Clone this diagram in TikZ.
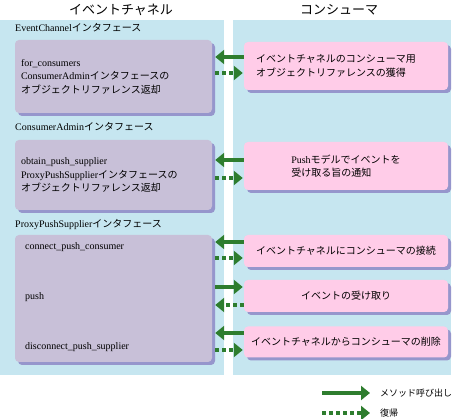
\documentclass[tikz,border=0pt]{standalone}
\usepackage{fontspec}
\setmainfont{Liberation Serif}
\newfontfamily\jpfont{Noto Sans CJK JP}
\newcommand{\jtext}[1]{{\jpfont #1}}
\usetikzlibrary{arrows.meta,shadows,calc}
\definecolor{panelblue}{RGB}{198,230,240}
\definecolor{ifacepurple}{RGB}{200,192,216}
\definecolor{taskpink}{RGB}{255,204,232}
\definecolor{shadowblue}{RGB}{150,150,204}
\definecolor{arrowgreen}{RGB}{46,125,46}
\begin{document}
\begin{tikzpicture}[x=1pt, y=-1pt,
    header/.style={font=\fontsize{13}{15}\selectfont\jpfont},
    caption/.style={anchor=west, inner sep=0pt, font=\fontsize{10}{13}\selectfont},
    legend/.style={anchor=west, inner sep=0pt, font=\fontsize{9}{11}\selectfont},
    iface/.style={fill=ifacepurple, rounded corners=4pt, minimum width=197pt, text width=185pt, align=left, font=\fontsize{10}{13.5}\selectfont, drop shadow={shadow xshift=3pt, shadow yshift=-3pt, fill=shadowblue, opacity=1}},
    task/.style={fill=taskpink, rounded corners=4pt, minimum width=204pt, align=left, font=\fontsize{10}{13.5}\selectfont, drop shadow={shadow xshift=3pt, shadow yshift=-3pt, fill=shadowblue, opacity=1}},
    call/.style={draw=arrowgreen, line width=4pt, -{Triangle[length=9pt, width=14pt]}},
    back/.style={call, dash pattern=on 4pt off 3pt},
]
    \useasboundingbox (0,0) rectangle (456,419);
    \fill[panelblue] (0,20) rectangle (224,375);
    \fill[panelblue] (233,20) rectangle (451,375);

    \node[header] (ec) at (121,10) {イベントチャネル};
    \node[header] (cons) at (339,10) {コンシューマ};

    \node[caption] (ecif) at (15,28) {EventChannel\jtext{インタフェース}};
    \node[caption] (caif) at (15,127) {ConsumerAdmin\jtext{インタフェース}};
    \node[caption] (ppif) at (15,225) {ProxyPushSupplier\jtext{インタフェース}};

    \node[iface, minimum height=73pt] (lA) at (113.5,76.5) {for\_consumers\\ConsumerAdmin\jtext{インタフェースの}\\\jtext{オブジェクトリファレンス返却}};
    \node[iface, minimum height=70pt] (lB) at (113.5,175) {obtain\_push\_supplier\\ProxyPushSupplier\jtext{インタフェースの}\\\jtext{オブジェクトリファレンス返却}};
    \node[iface, minimum height=127pt] (lC) at (113.5,298.5) {};
    \node[caption] (conn) at (25,247) {connect\_push\_consumer};
    \node[caption] (push) at (25,297) {push};
    \node[caption] (disc) at (25,347) {disconnect\_push\_supplier};

    \node[task, minimum height=48pt, text width=180pt] (rA) at (346,66) {\jtext{イベントチャネルのコンシューマ用}\\\jtext{オブジェクトリファレンスの獲得}};
    \node[task, minimum height=48pt] (rB) at (346,166) {Push\jtext{モデルでイベントを}\\\jtext{受け取る旨の通知}};
    \node[task, minimum height=32pt] (rC) at (346,251) {\jtext{イベントチャネルにコンシューマの接続}};
    \node[task, minimum height=32pt] (rD) at (346,296) {\jtext{イベントの受け取り}};
    \node[task, minimum height=31pt] (rE) at (346,342) {\jtext{イベントチャネルからコンシューマの削除}};

    \draw[call, shorten >=3pt] ($(rA.west)+(0,-9)$) -- ($(lA.east|-rA.west)+(0,-9)$);
    \draw[back, shorten <=3pt, shorten >=1pt] ($(lA.east|-rA.west)+(0,7)$) -- ($(rA.west)+(0,7)$);
    \draw[call, shorten >=3pt] ($(rB.west)+(0,-6)$) -- ($(lB.east|-rB.west)+(0,-6)$);
    \draw[back, shorten <=3pt, shorten >=1pt] ($(lB.east|-rB.west)+(0,12)$) -- ($(rB.west)+(0,12)$);
    \draw[call, shorten >=3pt] ($(rC.west)+(0,-9)$) -- ($(lC.east|-rC.west)+(0,-9)$);
    \draw[back, shorten <=3pt, shorten >=1pt] ($(lC.east|-rC.west)+(0,7)$) -- ($(rC.west)+(0,7)$);
    \draw[call, shorten <=3pt, shorten >=1pt] ($(lC.east|-rD.west)+(0,-9)$) -- ($(rD.west)+(0,-9)$);
    \draw[back, shorten >=3pt] ($(rD.west)+(0,9)$) -- ($(lC.east|-rD.west)+(0,9)$);
    \draw[call, shorten >=3pt] ($(rE.west)+(0,-9)$) -- ($(lC.east|-rE.west)+(0,-9)$);
    \draw[back, shorten <=3pt, shorten >=1pt] ($(lC.east|-rE.west)+(0,8)$) -- ($(rE.west)+(0,8)$);

    \coordinate (lgcall) at (322,393);
    \coordinate (lgback) at (322,413);
    \node[legend] (lgcalltext) at (380,393) {\jtext{メソッド呼び出し}};
    \node[legend] (lgbacktext) at (380,413) {\jtext{復帰}};
    \draw[call, shorten >=10pt] (lgcall) -- (lgcalltext.west);
    \draw[back, shorten >=10pt] (lgback) -- (lgbacktext.west);
\end{tikzpicture}
\end{document}
